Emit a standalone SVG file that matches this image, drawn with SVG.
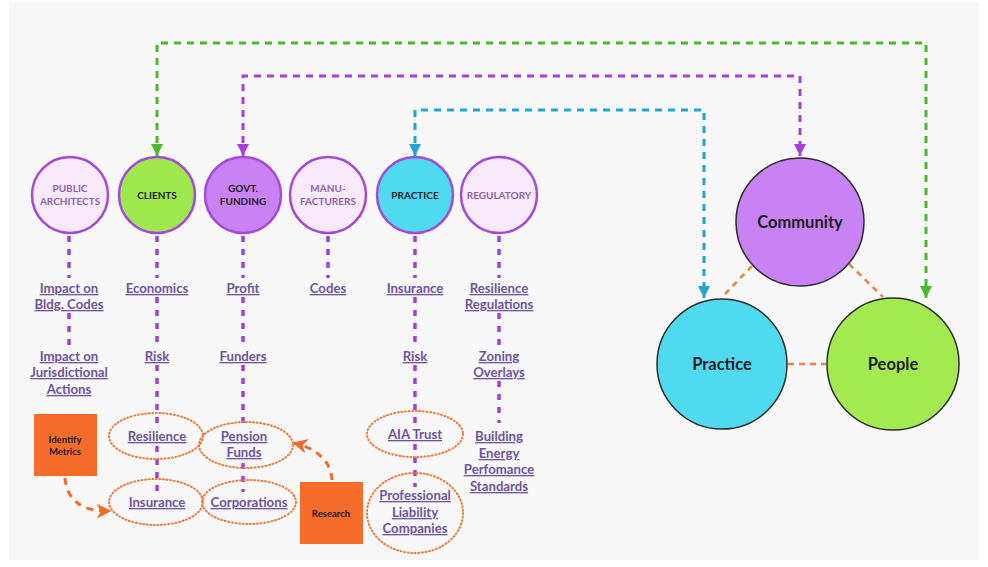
<svg xmlns="http://www.w3.org/2000/svg" width="988" height="567" viewBox="0 0 988 567">
<defs>
<style>
.bg{fill:#f8f8f8}
.sm{fill:#f8eafb;stroke:#a54ad6;stroke-width:2.5}
.ct{font-family:Lato,"Liberation Sans",sans-serif;font-weight:700;font-size:10px;text-anchor:middle}
.ctl{fill:#8f62ae}
.ctd{fill:#1e1a22}
.big{stroke:#2a2a2a;stroke-width:1.5}
.bt{font-family:Lato,"Liberation Sans",sans-serif;font-weight:700;font-size:16.5px;text-anchor:middle;fill:#1c1c1c}
.lbl{font-family:Lato,"Liberation Sans",sans-serif;font-weight:700;font-size:13.2px;text-anchor:middle;fill:#6e53a0;text-decoration:underline}
.vd{stroke:#a23fd8;stroke-width:3.5;stroke-dasharray:6 7;fill:none}
.od{fill:none;stroke:#f07a3c;stroke-width:2;stroke-dasharray:1 2.6;stroke-linecap:round}
.box{fill:#f56c2b}
.btx{font-family:Lato,"Liberation Sans",sans-serif;font-weight:700;font-size:9.5px;text-anchor:middle;fill:#1a1a1a}
.tri{stroke:#f08048;stroke-width:2.5;stroke-dasharray:6 5;fill:none}
</style>
<marker id="ag" viewBox="0 0 10 10" refX="10" refY="5" markerWidth="4" markerHeight="4" orient="auto-start-reverse" markerUnits="strokeWidth"><path d="M0,0L10,5L0,10z" fill="#4cb82a"/></marker>
<marker id="ap" viewBox="0 0 10 10" refX="10" refY="5" markerWidth="4" markerHeight="4" orient="auto-start-reverse" markerUnits="strokeWidth"><path d="M0,0L10,5L0,10z" fill="#a63fdc"/></marker>
<marker id="ab" viewBox="0 0 10 10" refX="10" refY="5" markerWidth="4" markerHeight="4" orient="auto-start-reverse" markerUnits="strokeWidth"><path d="M0,0L10,5L0,10z" fill="#22a4d4"/></marker>
<marker id="ao" viewBox="0 0 10 10" refX="9" refY="5" markerWidth="5" markerHeight="5" orient="auto" markerUnits="strokeWidth"><path d="M0,0L10,5L0,10L3,5z" fill="#f26b2a"/></marker>
</defs>
<rect width="988" height="567" fill="#ffffff"/>
<rect class="bg" x="9" y="2" width="970" height="558"/>

<g id="connectors">
<path d="M157,156 V43 H926 V298" fill="none" stroke="#4cb82a" stroke-width="3" stroke-dasharray="7 6" marker-start="url(#ag)" marker-end="url(#ag)"/>
<path d="M243,156 V76 H800 V156" fill="none" stroke="#a63fdc" stroke-width="3" stroke-dasharray="7 6" marker-start="url(#ap)" marker-end="url(#ap)"/>
<path d="M415,156 V110 H704 V298" fill="none" stroke="#22a4d4" stroke-width="3" stroke-dasharray="7 6" marker-start="url(#ab)" marker-end="url(#ab)"/>
<line class="vd" x1="69" y1="236" x2="69" y2="278"/>
<line class="vd" x1="69" y1="313" x2="69" y2="345"/>
<line class="vd" x1="157" y1="236" x2="157" y2="278"/>
<line class="vd" x1="157" y1="297" x2="157" y2="345"/>
<line class="vd" x1="157" y1="365" x2="157" y2="425"/>
<line class="vd" x1="157" y1="446" x2="157" y2="492"/>
<line class="vd" x1="243" y1="236" x2="243" y2="278"/>
<line class="vd" x1="243" y1="297" x2="243" y2="345"/>
<line class="vd" x1="243" y1="365" x2="243" y2="425"/>
<line class="vd" x1="243" y1="463" x2="243" y2="492"/>
<line class="vd" x1="328" y1="236" x2="328" y2="278"/>
<line class="vd" x1="415" y1="236" x2="415" y2="278"/>
<line class="vd" x1="415" y1="297" x2="415" y2="345"/>
<line class="vd" x1="415" y1="365" x2="415" y2="423"/>
<line class="vd" x1="415" y1="444" x2="415" y2="487"/>
<line class="vd" x1="499" y1="236" x2="499" y2="278"/>
<line class="vd" x1="499" y1="313" x2="499" y2="345"/>
<line class="vd" x1="499" y1="381" x2="499" y2="423"/>
<line class="tri" x1="752" y1="266" x2="722" y2="297"/>
<line class="tri" x1="849" y1="264" x2="883" y2="297"/>
<line class="tri" x1="788" y1="364" x2="826" y2="364"/>
<path d="M65,478 Q68,512 110,511" fill="none" stroke="#f26b2a" stroke-width="3" stroke-dasharray="7 6" marker-end="url(#ao)"/>
<path d="M332,480 Q330,452 294,443" fill="none" stroke="#f26b2a" stroke-width="3" stroke-dasharray="7 6" marker-end="url(#ao)"/>
</g>

<g id="public-architects"><circle class="sm" cx="70" cy="195" r="38"/><text class="ct ctl" x="70" y="192">PUBLIC</text><text class="ct ctl" x="70" y="205">ARCHITECTS</text></g>
<g id="clients"><circle cx="157" cy="195" r="38" fill="#9ee84e" stroke="#a54ad6" stroke-width="2.5"/><text class="ct ctd" x="157" y="199">CLIENTS</text></g>
<g id="govt-funding"><circle cx="243" cy="195" r="38" fill="#c982f3" stroke="#a54ad6" stroke-width="2.5"/><text class="ct ctd" x="243" y="192">GOVT.</text><text class="ct ctd" x="243" y="205">FUNDING</text></g>
<g id="manufacturers"><circle class="sm" cx="328" cy="195" r="38"/><text class="ct ctl" x="328" y="192">MANU-</text><text class="ct ctl" x="328" y="205">FACTURERS</text></g>
<g id="practice-small"><circle cx="415" cy="195" r="38" fill="#4fdaf0" stroke="#a54ad6" stroke-width="2.5"/><text class="ct ctd" x="415" y="199">PRACTICE</text></g>
<g id="regulatory"><circle class="sm" cx="499" cy="195" r="38"/><text class="ct ctl" x="499" y="199">REGULATORY</text></g>

<g id="community"><circle class="big" cx="800" cy="222" r="64" fill="#c982f3"/><text class="bt" x="800" y="228">Community</text></g>
<g id="practice"><circle class="big" cx="722" cy="364" r="65" fill="#4fdaf0"/><text class="bt" x="722" y="370">Practice</text></g>
<g id="people"><circle class="big" cx="893" cy="364" r="66" fill="#a3ea50"/><text class="bt" x="893" y="370">People</text></g>

<g id="labels-col1"><text class="lbl" x="69" y="293">Impact on</text><text class="lbl" x="69" y="309">Bldg. Codes</text><text class="lbl" x="69" y="361">Impact on</text><text class="lbl" x="69" y="377">Jurisdictional</text><text class="lbl" x="69" y="394">Actions</text></g>
<g id="labels-col2"><text class="lbl" x="157" y="293">Economics</text><text class="lbl" x="157" y="361">Risk</text></g>
<g id="labels-col3"><text class="lbl" x="243" y="293">Profit</text><text class="lbl" x="243" y="361">Funders</text></g>
<g id="labels-col4"><text class="lbl" x="328" y="293">Codes</text></g>
<g id="labels-col5"><text class="lbl" x="415" y="293">Insurance</text><text class="lbl" x="415" y="361">Risk</text></g>
<g id="labels-col6"><text class="lbl" x="499" y="293">Resilience</text><text class="lbl" x="499" y="309">Regulations</text><text class="lbl" x="499" y="361">Zoning</text><text class="lbl" x="499" y="377">Overlays</text><text class="lbl" x="499" y="441">Building</text><text class="lbl" x="499" y="458">Energy</text><text class="lbl" x="499" y="474">Perfomance</text><text class="lbl" x="499" y="491">Standards</text></g>

<g id="resilience"><ellipse class="od" cx="156" cy="436" rx="47" ry="23"/><text class="lbl" x="157" y="441">Resilience</text></g>
<g id="pension-funds"><ellipse class="od" cx="246" cy="445" rx="47" ry="23"/><text class="lbl" x="244" y="441">Pension</text><text class="lbl" x="244" y="457">Funds</text></g>
<g id="insurance"><ellipse class="od" cx="156" cy="502" rx="47" ry="23"/><text class="lbl" x="157" y="507">Insurance</text></g>
<g id="corporations"><ellipse class="od" cx="249" cy="502" rx="47" ry="22"/><text class="lbl" x="249" y="507">Corporations</text></g>
<g id="aia-trust"><ellipse class="od" cx="415" cy="434" rx="48" ry="23"/><text class="lbl" x="415" y="439">AIA Trust</text></g>
<g id="professional-liability"><ellipse class="od" cx="415" cy="513" rx="48" ry="40"/><text class="lbl" x="415" y="500">Professional</text><text class="lbl" x="415" y="517">Liability</text><text class="lbl" x="415" y="533">Companies</text></g>

<g id="identify-metrics"><rect class="box" x="34" y="414" width="63" height="62"/><text class="btx" x="65" y="443">Identify</text><text class="btx" x="65" y="455">Metrics</text></g>
<g id="research"><rect class="box" x="300" y="482" width="63" height="62"/><text class="btx" x="331" y="517">Research</text></g>
</svg>
